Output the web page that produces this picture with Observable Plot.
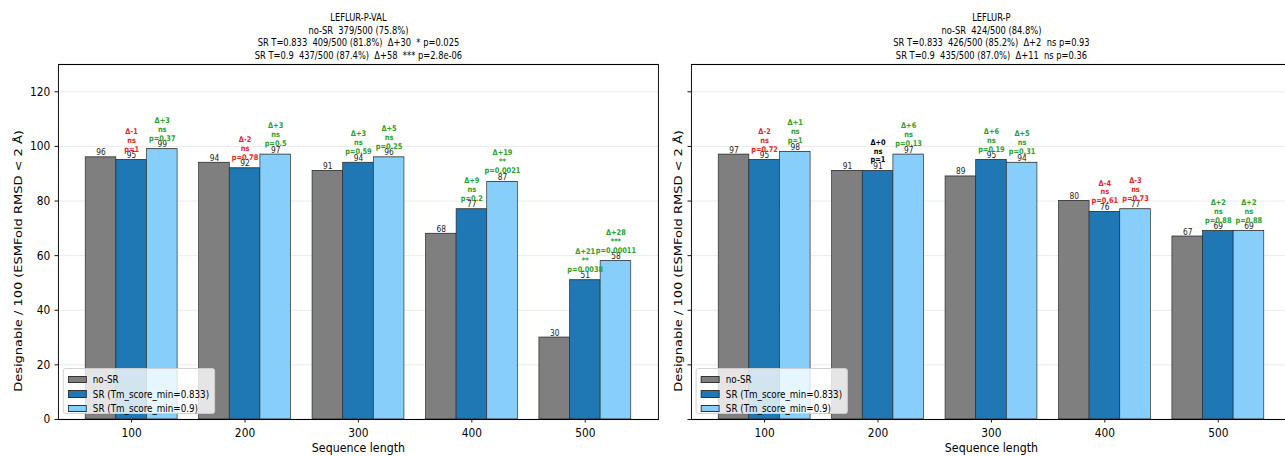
<!DOCTYPE html>
<html><head><meta charset="utf-8">
<script src="https://cdn.jsdelivr.net/npm/d3@7"></script>
<script src="https://cdn.jsdelivr.net/npm/@observablehq/plot@0.6"></script>
<style>
html,body{margin:0;padding:0;background:#fff;}
#root{position:relative;width:1285px;height:456px;overflow:hidden;font-family:"DejaVu Sans",sans-serif;}
.panel{position:absolute;top:0;height:456px;transform-origin:0 0;}
svg text{white-space:pre;}
.legend{position:absolute;background:rgba(255,255,255,0.8);border:1px solid #cfcfcf;border-radius:3px;box-sizing:border-box;font-size:10.3px;color:#000;padding-top:3px;}
.row{display:flex;align-items:center;height:14.5px;}
.sw{height:7.5px;border:0.8px solid #333;box-sizing:border-box;}
</style></head>
<body><div id="root"></div>
<script>
const groups = ["100","200","300","400","500"];
const series = ["no-SR","SR (Tm_score_min=0.833)","SR (Tm_score_min=0.9)"];
const colors = ["#7f7f7f","#1f77b4","#87cefa"];
const yTicks = [0,20,40,60,80,100,120];
const xLabel = "Sequence length";
const yLabel = "Designable / 100 (ESMFold RMSD < 2 Å)";

// Panel 1: LEFLUR-P-VAL
const valTitle = ["LEFLUR-P-VAL","no-SR  379/500 (75.8%)","SR T=0.833  409/500 (81.8%)  Δ+30  * p=0.025","SR T=0.9  437/500 (87.4%)  Δ+58  *** p=2.8e-06"];
const valNoSR = [96,94,91,68,30];
const valSR833 = [95,92,94,77,51];
const valSR09 = [99,97,96,87,58];
const valSig833 = ["ns","ns","ns","ns","**"];
const valP833 = ["1","0.78","0.59","0.2","0.0038"];
const valSig09 = ["ns","ns","ns","**","***"];
const valP09 = ["0.37","0.5","0.25","0.0021","0.00011"];

// Panel 2: LEFLUR-P
const pTitle = ["LEFLUR-P","no-SR  424/500 (84.8%)","SR T=0.833  426/500 (85.2%)  Δ+2  ns p=0.93","SR T=0.9  435/500 (87.0%)  Δ+11  ns p=0.36"];
const pNoSR = [97,91,89,80,67];
const pSR833 = [95,91,95,76,69];
const pSR09 = [98,97,94,77,69];
const pSig833 = ["ns","ns","ns","ns","ns"];
const pP833 = ["0.72","1","0.19","0.61","0.88"];
const pSig09 = ["ns","ns","ns","ns","ns"];
const pP09 = ["1","0.13","0.31","0.73","0.88"];

const W = 0.27;     // bar width in group units
const SX = 0.85;    // horizontal squeeze of the whole figure

function makePanel(o){
  const vals = o.values;
  const bars = [];
  vals.forEach((arr,k)=>arr.forEach((v,i)=>bars.push({i,k,v,x:i+(k-1)*W})));
  const ann = [];
  [1,2].forEach(k=>{
    const sig = k===1?o.sig833:o.sig09, ps = k===1?o.p833:o.p09;
    vals[k].forEach((v,i)=>{
      const d = v - vals[0][i];
      ann.push({x:i+(k-1)*W, v, text:`Δ${d>=0?"+":""}${d}\n${sig[i]}\np=${ps[i]}`,
        c: d>0?"#2ca02c":(d<0?"#e3262a":"#000000")});
    });
  });
  const width = o.width/SX, mL = o.marginLeft/SX, mR = o.marginRight/SX;
  const svg = Plot.plot({
    width, height:456, marginTop:64, marginBottom:37, marginLeft:mL, marginRight:mR,
    x:{domain:[-0.645,4.645]},
    y:{domain:[0,130]},
    color:{type:"identity"},
    style:{fontFamily:"DejaVu Sans", background:"transparent", overflow:"visible", maxWidth:"none"},
    marks:[
      Plot.gridY(yTicks.slice(1),{stroke:"#e8e8e8",strokeOpacity:1}),
      Plot.rectY(bars,{x1:d=>d.x-W/2,x2:d=>d.x+W/2,y1:0,y2:"v",fill:d=>colors[d.k],stroke:"#2a2a2a",strokeWidth:0.8}),
      Plot.frame({stroke:"#000",strokeWidth:1.1}),
      Plot.axisX({ticks:[0,1,2,3,4],tickFormat:i=>groups[i],tickSize:3.5,tickPadding:5,fontSize:12.5,label:null}),
      Plot.axisY({ticks:yTicks,tickSize:3.5/SX,tickPadding:5.5,fontSize:12.5,label:null,tickFormat:o.showY?(d=>String(d)):(()=>"")}),
      Plot.text(bars,{x:"x",y:"v",text:d=>String(d.v),fontSize:8.8,lineAnchor:"bottom",dy:-2,fill:"#222"}),
      Plot.text(ann,{x:"x",y:"v",text:"text",fill:"c",fontWeight:"bold",fontSize:7.8,lineAnchor:"bottom",dy:-8.5,lineHeight:1.15}),
      Plot.text([o.title.join("\n")],{frameAnchor:"top",lineAnchor:"bottom",dy:-5.5,fontSize:9.8,lineHeight:1.29}),
      Plot.text([xLabel],{frameAnchor:"bottom",dy:28,fontSize:13,lineAnchor:"middle"}),
      Plot.text([yLabel],{frameAnchor:"left",rotate:-90,dx:18/SX-mL,dy:19,fontSize:13,textAnchor:"middle",lineAnchor:"middle"})
    ]
  });
  const wrap = document.createElement("div");
  wrap.className = "panel";
  wrap.style.left = o.left+"px";
  wrap.style.width = width+"px";
  wrap.style.transform = `scaleX(${SX})`;
  wrap.appendChild(svg);
  const lg = document.createElement("div");
  lg.className = "legend";
  lg.style.left = ((o.marginLeft+5)/SX)+"px";
  lg.style.top = "368px";
  lg.style.width = (152/SX)+"px";
  lg.style.height = "46px";
  series.forEach((s,k)=>{
    const r = document.createElement("div"); r.className="row";
    r.style.paddingLeft = (4/SX)+"px";
    const sw = document.createElement("div"); sw.className="sw"; sw.style.background=colors[k];
    sw.style.width = (19/SX)+"px"; sw.style.marginRight = (6/SX)+"px";
    const t = document.createElement("span"); t.textContent=s;
    r.appendChild(sw); r.appendChild(t); lg.appendChild(r);
  });
  wrap.appendChild(lg);
  document.getElementById("root").appendChild(wrap);
}

makePanel({left:0,width:660,marginLeft:58,marginRight:2,showY:true,title:valTitle,
  values:[valNoSR,valSR833,valSR09],sig833:valSig833,p833:valP833,sig09:valSig09,p09:valP09});
makePanel({left:660,width:640,marginLeft:31,marginRight:9,showY:false,title:pTitle,
  values:[pNoSR,pSR833,pSR09],sig833:pSig833,p833:pP833,sig09:pSig09,p09:pP09});
</script>
</body></html>
